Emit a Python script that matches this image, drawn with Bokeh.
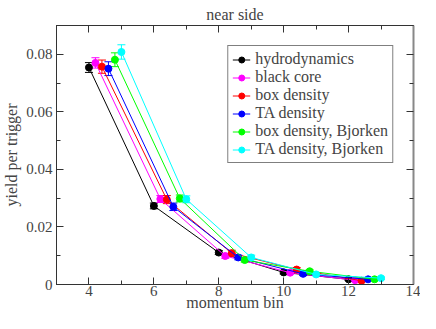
from bokeh.plotting import figure
from bokeh.models import (ColumnDataSource, Whisker, TeeHead, FixedTicker, LinearAxis,
                          Range1d, Legend, LegendItem)
from bokeh.embed import file_html
from bokeh.resources import INLINE

# ---- data ----
series_names = ["hydrodynamics", "black core", "box density", "TA density",
                "box density, Bjorken", "TA density, Bjorken"]
series_colors = ["#000000", "#ff00ff", "#ff0000", "#0000ff", "#00ff00", "#00ffff"]

x_hydro = [4.0, 6.0, 8.0, 10.0, 12.0]
x_black = [4.2, 6.2, 8.2, 10.2, 12.2]
x_box = [4.4, 6.4, 8.4, 10.4, 12.4]
x_ta = [4.6, 6.6, 8.6, 10.6, 12.6]
x_box_bj = [4.8, 6.8, 8.8, 10.8, 12.8]
x_ta_bj = [5.0, 7.0, 9.0, 11.0, 13.0]

y_hydro = [0.0754, 0.0273, 0.0111, 0.0042, 0.0018]
y_black = [0.0770, 0.0297, 0.0099, 0.0041, 0.0015]
y_box = [0.0757, 0.0295, 0.0109, 0.0052, 0.0013]
y_ta = [0.0750, 0.0270, 0.0094, 0.0037, 0.0018]
y_box_bj = [0.0781, 0.0299, 0.0085, 0.0046, 0.0018]
y_ta_bj = [0.0808, 0.0296, 0.0094, 0.0035, 0.0022]

e_hydro = [0.0017, 0.0010, 0.0007, 0.0005, 0.0004]
e_black = [0.0018, 0.0012, 0.0008, 0.0005, 0.0004]
e_box = [0.0023, 0.0014, 0.0010, 0.0007, 0.0004]
e_ta = [0.0024, 0.0013, 0.0008, 0.0006, 0.0004]
e_box_bj = [0.0024, 0.0012, 0.0007, 0.0005, 0.0004]
e_ta_bj = [0.0025, 0.0012, 0.0008, 0.0005, 0.0004]

x_major_ticks = [4, 6, 8, 10, 12, 14]
x_minor_ticks = [3, 5, 7, 9, 11, 13]
y_major_ticks = [0.0, 0.02, 0.04, 0.06, 0.08]
y_major_labels = ["0", "0.02", "0.04", "0.06", "0.08"]
y_minor_ticks = [0.01, 0.03, 0.05, 0.07, 0.09]

xs_all = [x_hydro, x_black, x_box, x_ta, x_box_bj, x_ta_bj]
ys_all = [y_hydro, y_black, y_box, y_ta, y_box_bj, y_ta_bj]
es_all = [e_hydro, e_black, e_box, e_ta, e_box_bj, e_ta_bj]

FONT = "Liberation Serif"

p = figure(width=420, height=313, output_backend="svg", toolbar_location=None,
           x_range=Range1d(3, 14), y_range=Range1d(0, 0.09),
           title="near side", min_border_left=0, min_border_top=0,
           min_border_bottom=0, min_border_right=7)
p.title.align = "center"
p.title.text_font = FONT
p.title.text_font_size = "16px"
p.title.text_font_style = "normal"
p.title.standoff = 6

p.xgrid.visible = False
p.ygrid.visible = False
p.outline_line_color = "#222222"
p.outline_line_width = 1
p.background_fill_color = "white"
p.border_fill_color = "white"

def style_axis(ax, ticks, minor, show_labels):
    ax.ticker = FixedTicker(ticks=ticks, minor_ticks=minor)
    ax.major_tick_in = 7
    ax.major_tick_out = 0
    ax.minor_tick_in = 4
    ax.minor_tick_out = 0
    ax.axis_line_color = "#333333"
    ax.major_tick_line_color = "#333333"
    ax.minor_tick_line_color = "#333333"
    ax.major_label_text_font = FONT
    ax.axis_label_text_font = FONT
    ax.axis_label_text_font_style = "normal"
    ax.axis_label_text_font_size = "16px"
    if show_labels:
        ax.major_label_text_font_size = "15px"
        ax.major_label_standoff = 2
        ax.axis_label_standoff = 0
    else:
        ax.major_label_text_font_size = "1px"
        ax.major_label_text_color = None
        ax.major_label_standoff = 0

style_axis(p.xaxis[0], x_major_ticks, x_minor_ticks, True)
style_axis(p.yaxis[0], y_major_ticks, y_minor_ticks, True)
p.xaxis[0].axis_label = "momentum bin"
p.xaxis[0].axis_label_standoff = -5
p.xaxis[0].major_label_standoff = 1
p.yaxis[0].axis_label = "yield per trigger"
p.yaxis[0].axis_label_standoff = 3
p.yaxis[0].major_label_standoff = 4
p.yaxis[0].major_label_overrides = {t: lab for t, lab in zip(y_major_ticks, y_major_labels)}

top_ax = LinearAxis()
style_axis(top_ax, x_major_ticks, x_minor_ticks, False)
p.add_layout(top_ax, "above")
right_ax = LinearAxis()
style_axis(right_ax, y_major_ticks, y_minor_ticks, False)
right_ax.axis_line_color = "#888888"
right_ax.axis_line_width = 2
p.add_layout(right_ax, "right")

items = []
for name, col, xs, ys, es in zip(series_names, series_colors, xs_all, ys_all, es_all):
    src = ColumnDataSource(dict(x=xs, y=ys,
                                upper=[a + b for a, b in zip(ys, es)],
                                lower=[a - b for a, b in zip(ys, es)]))
    wh = Whisker(base="x", upper="upper", lower="lower", source=src,
                 line_color=col, line_width=1,
                 upper_head=TeeHead(size=8, line_color=col, line_width=1),
                 lower_head=TeeHead(size=8, line_color=col, line_width=1))
    p.add_layout(wh)
    r1 = p.line("x", "y", source=src, line_color=col, line_width=1)
    r2 = p.scatter("x", "y", source=src, marker="circle", size=7,
                   fill_color=col, line_color=col)
    items.append(LegendItem(label=name, renderers=[r1, r2]))

legend = Legend(items=items, location="top_right")
legend.label_text_font = FONT
legend.label_text_font_size = "16px"
legend.label_height = 15
legend.glyph_height = 15
legend.glyph_width = 18
legend.label_standoff = 5
legend.spacing = 0
legend.padding = 4
legend.margin = 20
legend.border_line_color = "black"
legend.border_line_width = 1
legend.background_fill_color = "white"
legend.background_fill_alpha = 1
p.add_layout(legend)

open("out.html", "w").write(file_html(p, INLINE))
